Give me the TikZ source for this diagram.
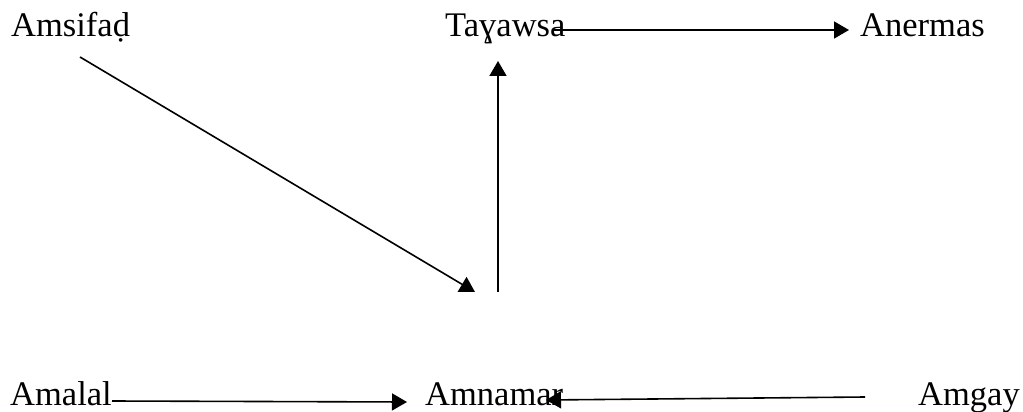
\documentclass[tikz,border=0pt]{standalone}
\usepackage{fontspec}
\setmainfont{Liberation Serif}
\usetikzlibrary{arrows.meta}
\begin{document}
\begin{tikzpicture}[x=1pt,y=-1pt,
  lbl/.style={anchor=base west,inner sep=0pt,font=\fontsize{34.5}{36}\selectfont},
  conn/.style={line width=1.6pt,-{Triangle[length=15pt,width=17pt]}}]
\useasboundingbox (0,0) rectangle (1023,412);
\node[lbl] (amsifad) at (11,37) {Amsifaḍ};
\node[lbl] (tayawsa) at (445,37) {Taɣawsa};
\node[lbl] (anermas) at (860,37) {Anermas};
\node[lbl] (amalal) at (10,405) {Amalal};
\node[lbl] (amnamar) at (425,405) {Amnamar};
\node[lbl] (amgay) at (918,405) {Amgay};
\coordinate (c1s) at (552,30);
\coordinate (c1e) at (849,30);
\coordinate (c2s) at (80,57);
\coordinate (c2e) at (475,292);
\coordinate (c3s) at (498,292);
\coordinate (c3e) at (498,61);
\coordinate (c4s) at (112,401);
\coordinate (c4e) at (407,402);
\coordinate (c5s) at (865,397);
\coordinate (c5e) at (546,400);
\draw[conn] (c1s) -- (c1e);
\draw[conn] (c2s) -- (c2e);
\draw[conn] (c3s) -- (c3e);
\draw[conn] (c4s) -- (c4e);
\draw[conn] (c5s) -- (c5e);
\end{tikzpicture}
\end{document}
